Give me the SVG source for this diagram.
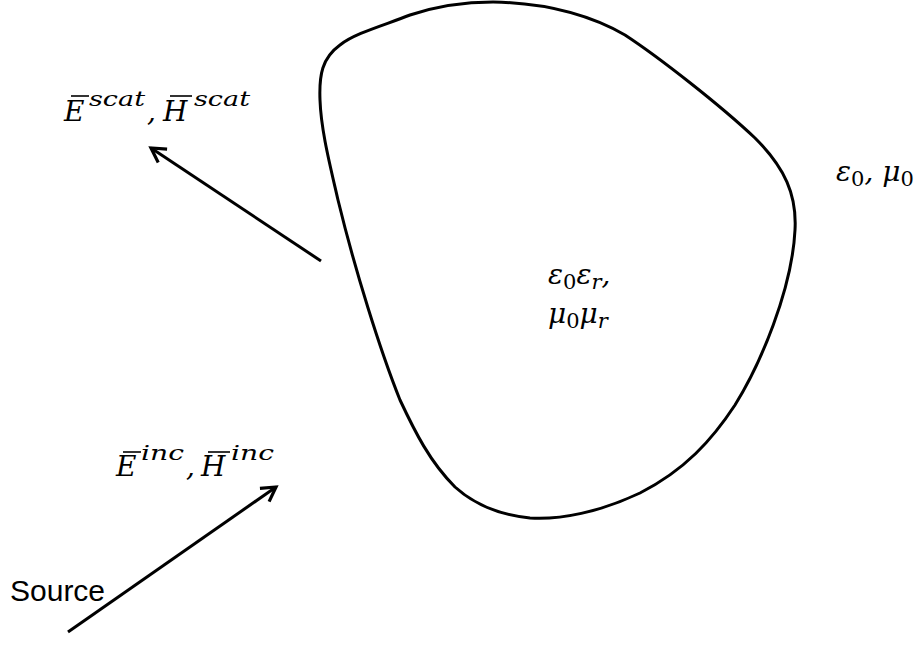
<svg xmlns="http://www.w3.org/2000/svg" width="924" height="671" viewBox="0 0 924 671">
<defs>
<style>
.m{font-family:"DejaVu Serif","Liberation Serif",serif;font-style:italic;font-size:28px;fill:#000}
.s{font-family:"DejaVu Serif","Liberation Serif",serif;font-style:italic;font-size:21px;fill:#000}
.u{font-style:normal}
.lbl{font-family:"Liberation Sans",Arial,sans-serif;font-size:30px;fill:#000}
.bar{stroke:#000;stroke-width:1.6}
.edge{stroke:#000;stroke-width:3;fill:none;marker-end:url(#ah)}
</style>
<marker id="ah" viewBox="0 0 20 20" refX="17" refY="10" markerWidth="20" markerHeight="20" markerUnits="userSpaceOnUse" orient="auto">
<path d="M3,2 L17,10 L3,18" fill="none" stroke="#000" stroke-width="3.2" stroke-linejoin="miter"/>
</marker>
</defs>
<rect width="924" height="671" fill="#fff"/>
<g id="body">
<path d="M320,100 C319,75 322,58 340,45 C355,33 385,25 410,15 C440,5 465,2 493,2 C545,3 590,15 625,35 C660,58 720,105 755,138 C785,168 797,195 795,230 C792,290 760,365 735,405 C712,440 685,470 640,493 C600,512 560,520 530,518 C500,515 475,505 455,487 C430,462 415,432 400,400 C380,350 355,270 338,200 C330,165 321,130 320,100 Z" fill="none" stroke="#000" stroke-width="3"/>
</g>
<g id="connectors">
<line class="edge" x1="321" y1="261" x2="151" y2="148"/>
<line class="edge" x1="68" y1="632" x2="276" y2="487"/>
</g>
<g id="scat-label">
<text class="m" x="64" y="121">E</text>
<text class="s" x="89" y="106" textLength="56" lengthAdjust="spacingAndGlyphs">scat</text>
<text class="m" x="147" y="121">,</text>
<text class="m" x="163" y="121">H</text>
<text class="s" x="194" y="106" textLength="56" lengthAdjust="spacingAndGlyphs">scat</text>
<line class="bar" x1="71" y1="96" x2="89" y2="96"/>
<line class="bar" x1="170" y1="96" x2="192" y2="96"/>
</g>
<g id="inc-label">
<text class="m" x="116" y="476">E</text>
<text class="s" x="141" y="460" textLength="43" lengthAdjust="spacingAndGlyphs">inc</text>
<text class="m" x="186" y="476">,</text>
<text class="m" x="201" y="476">H</text>
<text class="s" x="231" y="460" textLength="43" lengthAdjust="spacingAndGlyphs">inc</text>
<line class="bar" x1="123" y1="452" x2="141" y2="452"/>
<line class="bar" x1="208" y1="452" x2="230" y2="452"/>
</g>
<g id="inner-label">
<text class="m" x="548" y="284">ε<tspan class="s u" dy="5">0</tspan><tspan dy="-5">ε</tspan><tspan class="s" dy="5">r</tspan><tspan dy="-5">,</tspan></text>
<text class="m" x="548" y="323">μ<tspan class="s u" dy="5">0</tspan><tspan dy="-5">μ</tspan><tspan class="s" dy="5">r</tspan></text>
</g>
<g id="outer-label">
<text class="m" x="836" y="181">ε<tspan class="s u" dy="5">0</tspan><tspan dy="-5">, μ</tspan><tspan class="s u" dy="5">0</tspan></text>
</g>
<g id="source-label">
<text class="lbl" x="10" y="601">Source</text>
</g>
</svg>
